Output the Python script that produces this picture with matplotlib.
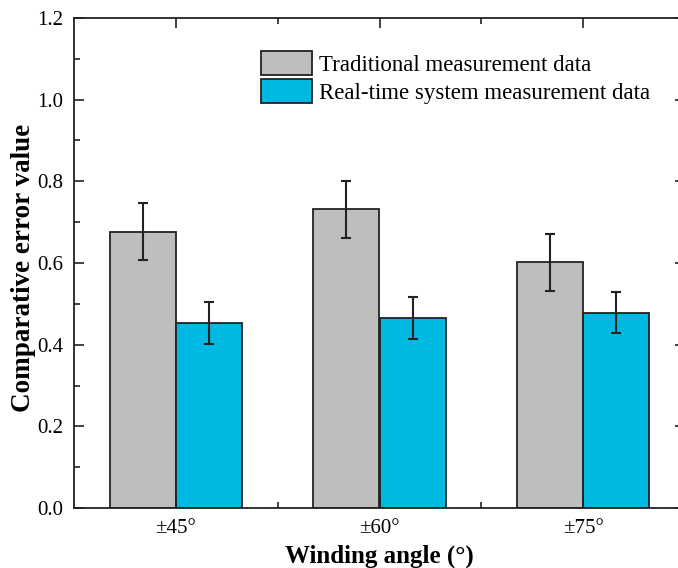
import numpy as np
import matplotlib
matplotlib.use("Agg")
import matplotlib.pyplot as plt
from matplotlib.ticker import MultipleLocator, FixedLocator

# data
angles = ["\u00b145\u00b0", "\u00b160\u00b0", "\u00b175\u00b0"]
traditional = [0.677, 0.732, 0.602]
traditional_err = [0.070, 0.070, 0.070]
realtime = [0.453, 0.465, 0.478]
realtime_err = [0.051, 0.051, 0.050]
series_names = ["Traditional measurement data", "Real-time system measurement data"]

plt.rcParams["font.family"] = ["Liberation Serif", "DejaVu Serif"]

W, H = 678, 568
fig = plt.figure(figsize=(W / 100, H / 100), dpi=100)
ax = fig.add_axes([74 / W, (H - 508) / H, (685 - 74) / W, (508 - 18) / H])

x = np.arange(len(angles))
bw = 0.325
err_kw = dict(ecolor="#222222", elinewidth=1.5, capsize=3.6, capthick=1.5)
ax.bar(x - bw / 2, traditional, bw, yerr=traditional_err, color="#bebebe",
       edgecolor="#222222", linewidth=1.3, error_kw=err_kw, label=series_names[0])
ax.bar(x + bw / 2, realtime, bw, yerr=realtime_err, color="#00b9e2",
       edgecolor="#222222", linewidth=1.3, error_kw=err_kw, label=series_names[1])

ax.set_xlim(-0.5, 2.5)
ax.set_ylim(0, 1.2)
ax.set_xticks(x)
ax.set_xticklabels(angles)
ax.xaxis.set_minor_locator(FixedLocator([0.5, 1.5]))
ax.yaxis.set_major_locator(MultipleLocator(0.2))
ax.yaxis.set_minor_locator(MultipleLocator(0.1))
ax.yaxis.set_major_formatter(matplotlib.ticker.FormatStrFormatter("%.1f"))
ax.tick_params(which="both", direction="in", top=True, right=True, width=1.2,
               labelsize=15, colors="#222222", labelcolor="black")
ax.tick_params(which="major", length=7, pad=8)
ax.tick_params(which="minor", length=4)
for s in ax.spines.values():
    s.set_linewidth(1.3)
    s.set_color("#222222")

ax.set_xlabel("Winding angle (\u00b0)", fontsize=18, fontweight="bold", labelpad=5)
ax.set_ylabel("Comparative error value", fontsize=19.5, fontweight="bold")
ax.yaxis.set_label_coords(-0.063, 0.49)

ax.legend(loc="upper left", bbox_to_anchor=(250 / W, 1 - 40 / H),
          bbox_transform=fig.transFigure, frameon=False, fontsize=16.5,
          borderpad=0, handlelength=2.2, handleheight=1.2,
          handletextpad=0.3, labelspacing=0.15)

fig.savefig("out.png", dpi=100)
